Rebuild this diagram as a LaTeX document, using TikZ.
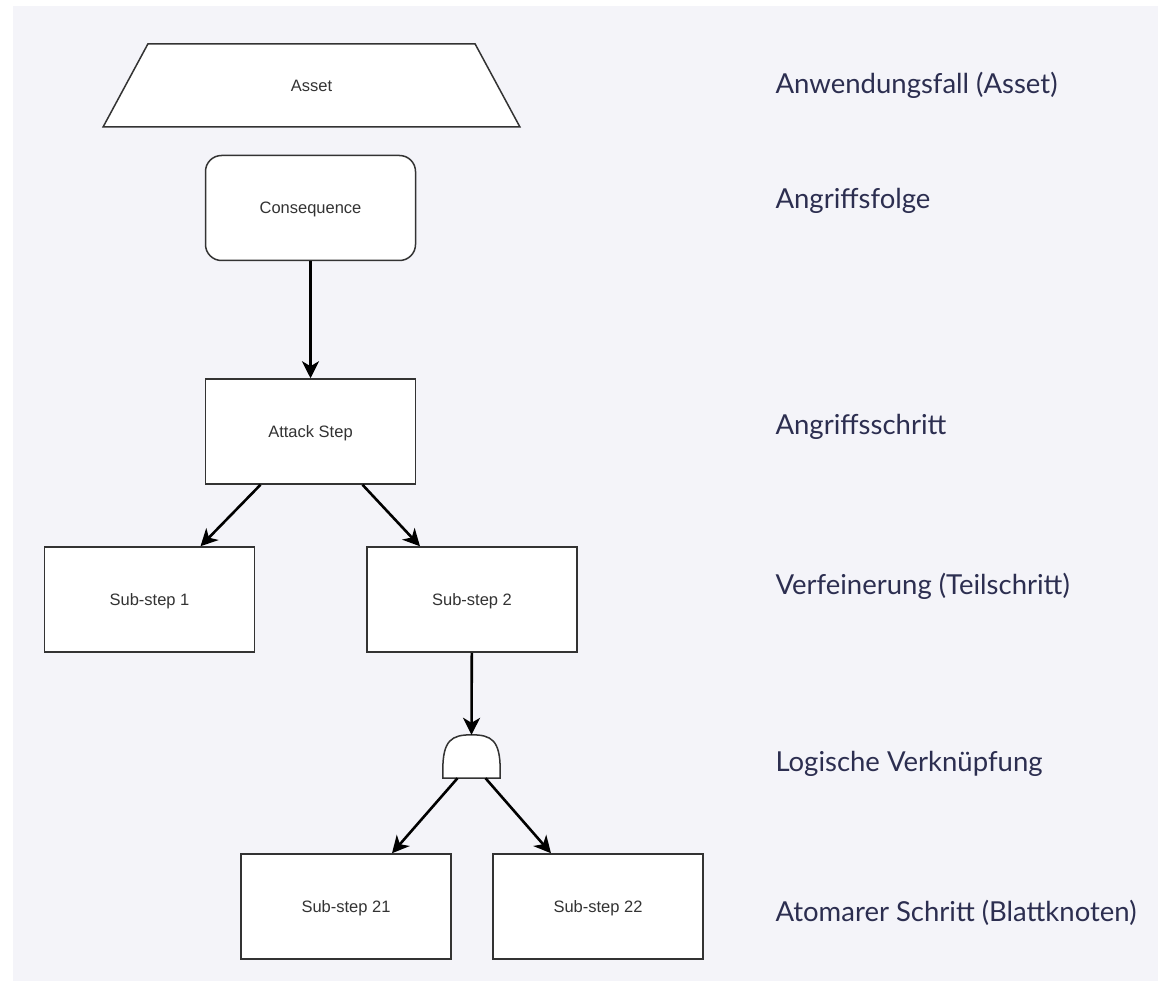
\documentclass[tikz,border=0pt]{standalone}
\usepackage{fontspec}
\setmainfont{Liberation Sans}
\newfontfamily\labelfont{Lato}
\usetikzlibrary{arrows.meta,shapes.geometric}

\definecolor{bggrey}{RGB}{244,244,249}
\definecolor{linegrey}{RGB}{51,51,51}
\definecolor{labelblue}{RGB}{44,46,80}

\begin{document}
\begin{tikzpicture}[x=1pt, y=-1pt,
    box/.style={draw=linegrey, line width=1.5pt, fill=white, text=linegrey, text depth=0pt,
        minimum width=210pt, minimum height=105pt, font=\fontsize{16.5}{18}\selectfont},
    link/.style={line width=2.6pt, -{Stealth[length=17pt, width=17pt, inset=5pt]}},
    level/.style={anchor=west, text=labelblue, font=\labelfont\fontsize{27.5}{30}\selectfont}]
    \useasboundingbox (0, 0) rectangle (1158, 981);
    \fill[bggrey] (13, 6) rectangle (1158, 981);

    \node[box, trapezium, trapezium angle=70, trapezium stretches=true,
        minimum width=419pt, minimum height=83pt] (asset) at (311.5, 85.5) {Asset};
    \node[box, rounded corners=16pt] (cons) at (310.5, 208) {Consequence};
    \node[box] (attack) at (310.5, 431.5) {Attack Step};
    \node[box] (sub1) at (149.5, 599.5) {Sub-step 1};
    \node[box] (sub2) at (472, 599.5) {Sub-step 2};
    \node[box] (sub21) at (346, 906.5) {Sub-step 21};
    \node[box] (sub22) at (598, 906.5) {Sub-step 22};

    % 与门
    \node[minimum width=57pt, minimum height=43pt, inner sep=0pt] (gate) at (471.5, 756.5) {};
    \draw[draw=linegrey, line width=1.5pt, fill=white] (gate.south west) -- ++(0, -8)
        .. controls ++(0, -30) and ++(-20, 0) .. (gate.north)
        .. controls ++(20, 0) and ++(0, -30) .. ([yshift=8pt]gate.south east)
        -- (gate.south east) -- cycle;

    \draw[link] (cons) -- (attack);
    \draw[link] ([xshift=-50pt]attack.south) -- ([xshift=51pt]sub1.north);
    \draw[link] ([xshift=52pt]attack.south) -- ([xshift=-52pt]sub2.north);
    \draw[link] (sub2) -- (gate.north);
    \draw[link] ([xshift=-14pt]gate.south) -- ([xshift=46pt]sub21.north);
    \draw[link] ([xshift=14pt]gate.south) -- ([xshift=-47pt]sub22.north);

    \node[level] (l1) at (772, 85) {Anwendungsfall (Asset)};
    \node[level] (l2) at (772, 201) {Angriffsfolge};
    \node[level] (l3) at (772, 427) {Angriffsschritt};
    \node[level] (l4) at (772, 586) {Verfeinerung (Teilschritt)};
    \node[level] (l5) at (772, 764) {Logische Verknüpfung};
    \node[level] (l6) at (772, 913) {Atomarer Schritt (Blattknoten)};
\end{tikzpicture}
\end{document}
